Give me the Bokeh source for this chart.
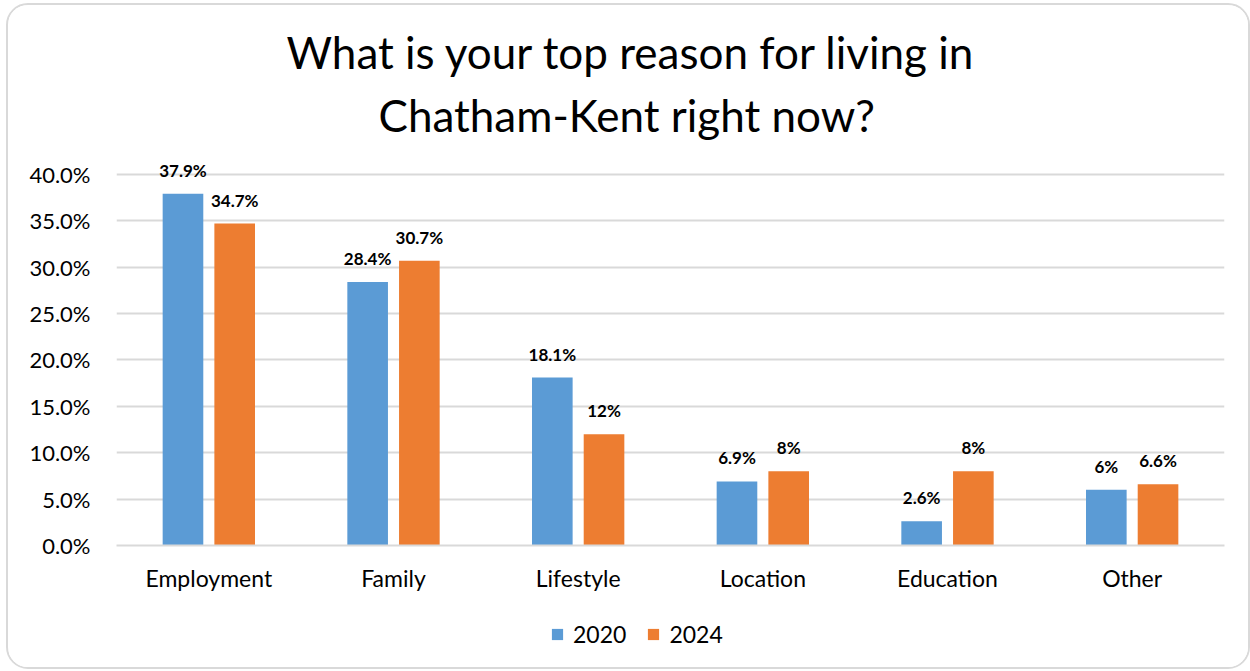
from bokeh.plotting import figure
from bokeh.models import (ColumnDataSource, FactorRange, FixedTicker, Legend, LegendItem,
                          LabelSet, Title, CustomJSTickFormatter, Range1d)
from bokeh.core.properties import value
from bokeh.layouts import column
from bokeh.transform import dodge
from bokeh.embed import file_html
from bokeh.resources import INLINE

categories = ["Employment", "Family", "Lifestyle", "Location", "Education", "Other"]
values_2020 = [37.9, 28.4, 18.1, 6.9, 2.6, 6.0]
values_2024 = [34.7, 30.7, 12.0, 8.0, 8.0, 6.6]
labels_2020 = ["37.9%", "28.4%", "18.1%", "6.9%", "2.6%", "6%"]
labels_2024 = ["34.7%", "30.7%", "12%", "8%", "8%", "6.6%"]
series = ["2020", "2024"]
y_ticks = [0, 5, 10, 15, 20, 25, 30, 35, 40]
title_lines = ["What is your top reason for living in", "Chatham-Kent right now?"]

FONT = "Lato"
BLUE = "#5B9BD5"
ORANGE = "#ED7D31"
GRID = "#d9d9d9"

src = ColumnDataSource(dict(cat=categories, v20=values_2020, v24=values_2024,
                            l20=labels_2020, l24=labels_2024))

p = figure(width=1240, height=600, x_range=FactorRange(*categories), y_range=(0, 43),
           output_backend="svg", toolbar_location=None,
           min_border_left=108, min_border_right=24, min_border_top=141, min_border_bottom=60)
p.outline_line_color = None

r1 = p.vbar(x=dodge("cat", -0.14, range=p.x_range), top="v20", width=0.22, source=src,
            fill_color=BLUE, line_color=None)
r2 = p.vbar(x=dodge("cat", 0.14, range=p.x_range), top="v24", width=0.22, source=src,
            fill_color=ORANGE, line_color=None)

for xoff, col, lab in [(-0.14, "v20", "l20"), (0.14, "v24", "l24")]:
    ls = LabelSet(x=dodge("cat", xoff, range=p.x_range), y=col, text=lab, source=src,
                  text_align="center", text_baseline="bottom", y_offset=13,
                  text_font=value(FONT), text_font_size="17px", text_font_style="bold",
                  text_color="#000000")
    p.add_layout(ls)

p.yaxis.ticker = FixedTicker(ticks=y_ticks)
p.yaxis.formatter = CustomJSTickFormatter(code="return tick.toFixed(1) + '%';")
p.yaxis.major_label_text_font = FONT
p.yaxis.major_label_text_font_size = "22px"
p.yaxis.major_label_text_color = "#000000"
p.yaxis.axis_line_color = None
p.yaxis.major_tick_line_color = None
p.yaxis.minor_tick_line_color = None
p.yaxis.major_label_standoff = 20

p.xaxis.axis_line_color = GRID
p.xaxis.axis_line_width = 2
p.xaxis.major_tick_line_color = None
p.xaxis.minor_tick_line_color = None
p.xaxis.major_label_text_font = FONT
p.xaxis.major_label_text_font_size = "23px"
p.xaxis.major_label_text_color = "#000000"
p.xaxis.major_label_standoff = 12

p.xgrid.grid_line_color = None
p.ygrid.grid_line_color = GRID
p.ygrid.grid_line_width = 2

p.add_layout(Title(text=title_lines[1], align="left", offset=262, text_font=FONT,
                   text_font_size="44px", text_font_style="normal", text_color="#000000",
                   standoff=12), "above")
p.add_layout(Title(text=title_lines[0], align="left", offset=170, text_font=FONT,
                   text_font_size="44px", text_font_style="normal", text_color="#000000",
                   standoff=6), "above")

# legend in a slim companion figure below the chart (its keys sit outside its view)
pl = figure(width=1240, height=62, output_backend="svg", toolbar_location=None,
            x_range=Range1d(10, 20), y_range=Range1d(10, 20),
            x_axis_location=None, y_axis_location=None,
            min_border_left=0, min_border_right=0, min_border_top=0, min_border_bottom=0)
pl.outline_line_color = None
pl.grid.grid_line_color = None
k1 = pl.vbar(x=[0], top=[0], width=1, fill_color=BLUE, line_color=None)
k2 = pl.vbar(x=[0], top=[0], width=1, fill_color=ORANGE, line_color=None)
legend = Legend(items=[LegendItem(label=series[0], renderers=[k1]),
                       LegendItem(label=series[1], renderers=[k2])],
                orientation="horizontal", location=(434, 19),
                label_text_font=FONT, label_text_font_size="23px", label_text_color="#000000",
                glyph_width=14, glyph_height=14, spacing=20, label_standoff=9,
                border_line_color=None, background_fill_alpha=0, margin=0, padding=0)
pl.add_layout(legend)

layout = column(p, pl, spacing=0,
                styles={"border": "2px solid #d9d9d9", "border-radius": "22px",
                        "overflow": "hidden", "margin-left": "6px", "margin-top": "3px"})

open("out.html", "w").write(file_html(layout, INLINE))
